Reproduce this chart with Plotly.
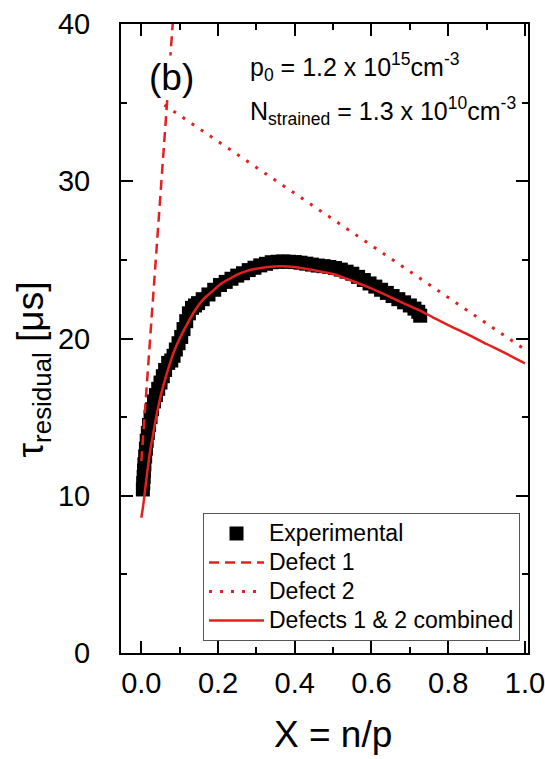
import plotly.graph_objects as go

# Experimental residual lifetime (band of dense square markers)
exp_x = [0.004, 0.005, 0.006, 0.007, 0.008, 0.010, 0.012, 0.014, 0.017, 0.020,
         0.024, 0.028, 0.033, 0.038, 0.044, 0.050, 0.056, 0.062, 0.070, 0.078,
         0.084, 0.090, 0.097, 0.104, 0.110, 0.117, 0.124, 0.132, 0.140, 0.148,
         0.160, 0.175, 0.190, 0.205, 0.220, 0.235, 0.250, 0.265, 0.280, 0.295,
         0.310, 0.325, 0.340, 0.355, 0.370, 0.385, 0.400, 0.415, 0.430, 0.445,
         0.460, 0.475, 0.490, 0.505, 0.520, 0.535, 0.550, 0.565, 0.580, 0.595,
         0.610, 0.625, 0.640, 0.655, 0.670, 0.685, 0.700, 0.712, 0.722, 0.727]
exp_y = [10.4, 10.8, 11.2, 11.6, 12.0, 12.5, 13.0, 13.5, 14.0, 14.5,
         15.0, 15.5, 16.0, 16.4, 16.8, 17.2, 17.6, 18.0, 18.45, 18.6,
         18.9, 19.3, 19.7, 20.1, 20.6, 21.1, 21.6, 21.95, 22.1, 22.25,
         22.5, 22.8, 23.1, 23.4, 23.6, 23.8, 24.0, 24.15, 24.35, 24.5,
         24.65, 24.75, 24.85, 24.88, 24.9, 24.88, 24.86, 24.82, 24.76, 24.7,
         24.64, 24.6, 24.55, 24.48, 24.38, 24.25, 24.12, 23.92, 23.72, 23.5,
         23.3, 23.1, 22.9, 22.7, 22.5, 22.3, 22.1, 21.9, 21.7, 21.45]

# Defect 1 (straight line in the linearised plot)
d1_x = [0.0, 0.09]
d1_y = [12.2, 42.8]

# Defect 2
d2_x = [0.06, 1.0]
d2_y = [34.85, 19.3]

# Both defects combined
comb_x = [0.0, 0.005, 0.01, 0.015, 0.022, 0.032, 0.042, 0.054, 0.068, 0.084,
          0.10, 0.119, 0.14, 0.162, 0.185, 0.206, 0.23, 0.249, 0.27, 0.292,
          0.33, 0.362, 0.40, 0.431, 0.47, 0.50, 0.54, 0.588, 0.63, 0.674,
          0.72, 0.76, 0.80, 0.848, 0.90, 0.95, 1.0]
comb_y = [8.6, 9.4, 10.4, 11.4, 12.7, 14.1, 15.4, 16.7, 17.9, 19.1,
          20.0, 20.9, 21.8, 22.5, 23.0, 23.45, 23.8, 24.05, 24.25, 24.4,
          24.55, 24.6, 24.55, 24.42, 24.25, 24.1, 23.75, 23.3, 22.85, 22.35,
          21.85, 21.35, 20.85, 20.3, 19.65, 19.05, 18.42]

x_ticks = [0.0, 0.2, 0.4, 0.6, 0.8, 1.0]
x_tick_text = ["0.0", "0.2", "0.4", "0.6", "0.8", "1.0"]
y_ticks = [0, 10, 20, 30, 40]

RED = "#e3201f"
FONT = "Liberation Sans, Arial, sans-serif"


def legend_label(text):
    # legend row height follows the legend font size; label text is drawn a bit larger
    return '<span style="font-size:23px">' + text + "</span>"


fig = go.Figure()
fig.add_trace(go.Scatter(x=exp_x, y=exp_y, mode="markers", name=legend_label("Experimental"),
                         marker=dict(symbol="square", size=14, color="black",
                                     line=dict(width=0))))
fig.add_trace(go.Scatter(x=d1_x, y=d1_y, mode="lines", name=legend_label("Defect 1"),
                         line=dict(color=RED, width=2.5, dash="10px,6px")))
fig.add_trace(go.Scatter(x=d2_x, y=d2_y, mode="lines", name=legend_label("Defect 2"),
                         line=dict(color=RED, width=3, dash="3px,8px")))
fig.add_trace(go.Scatter(x=comb_x, y=comb_y, mode="lines",
                         name=legend_label("Defects 1 &amp; 2 combined"),
                         line=dict(color=RED, width=2.5, shape="spline", smoothing=0.6)))

axis_common = dict(showgrid=False, zeroline=False, showline=True, linecolor="black",
                   linewidth=2, mirror="ticks", ticks="inside", ticklen=12, tickwidth=2,
                   tickcolor="black", ticklabeloverflow="allow", automargin=False,
                   tickfont=dict(family=FONT, size=29, color="black"))

fig.update_xaxes(range=[-0.053, 1.008], tickvals=x_ticks, ticktext=x_tick_text,
                 ticklabelstandoff=3,
                 minor=dict(dtick=0.1, tick0=0, ticks="inside", ticklen=6, tickwidth=2,
                            tickcolor="black"),
                 **axis_common)
fig.update_yaxes(range=[0, 40], tickvals=y_ticks, ticklabelstandoff=23,
                 minor=dict(dtick=5, tick0=0, ticks="inside", ticklen=6, tickwidth=2,
                            tickcolor="black"),
                 **axis_common)

fig.add_annotation(text="X = n/p", xref="paper", yref="paper", x=0.52, y=-0.094,
                   xanchor="center", yanchor="top", showarrow=False,
                   font=dict(family=FONT, size=37, color="black"))
fig.add_annotation(text="τ<sub>residual</sub> [μs]", xref="paper", yref="paper",
                   x=-0.215, y=0.4515, xanchor="center", yanchor="middle",
                   textangle=-90, showarrow=False,
                   font=dict(family=FONT, size=37, color="black"))
fig.add_annotation(text="(b)", xref="paper", yref="paper", x=0.1229, y=0.9157,
                   xanchor="center", yanchor="middle", showarrow=False,
                   bgcolor="white",
                   font=dict(family=FONT, size=37, color="black"))
fig.add_annotation(text="p<sub>0</sub> = 1.2 x 10<sup>15</sup>cm<sup>-3</sup>",
                   xref="paper", yref="paper", x=0.312, y=0.932,
                   xanchor="left", yanchor="middle", showarrow=False,
                   font=dict(family=FONT, size=25, color="black"))
fig.add_annotation(text="N<sub>strained</sub> = 1.3 x 10<sup>10</sup>cm<sup>-3</sup>",
                   xref="paper", yref="paper", x=0.312, y=0.862,
                   xanchor="left", yanchor="middle", showarrow=False,
                   font=dict(family=FONT, size=25, color="black"))

fig.update_layout(
    width=545, height=759,
    margin=dict(l=121, r=17, t=24, b=106, autoexpand=False),
    paper_bgcolor="white", plot_bgcolor="white",
    font=dict(family=FONT, color="black"),
    legend=dict(x=0.2015, y=0.2226, xanchor="left", yanchor="top",
                bgcolor="white", bordercolor="#555555", borderwidth=1,
                font=dict(family=FONT, size=20, color="black"),
                itemwidth=55, tracegroupgap=0),
)

fig.write_html("out.html")
